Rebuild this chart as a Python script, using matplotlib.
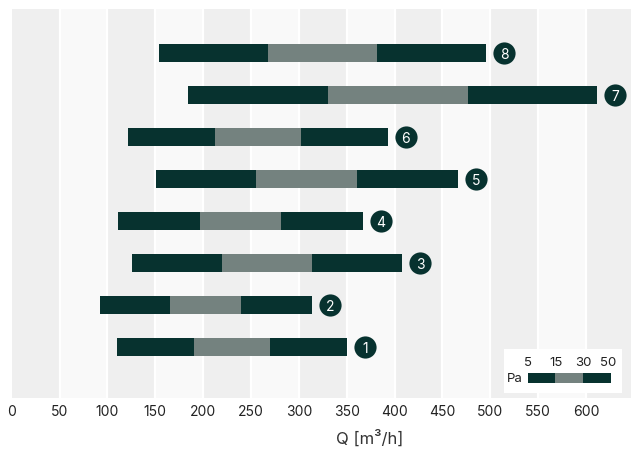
import matplotlib.pyplot as plt
import matplotlib.transforms as mtransforms
import numpy as np

plt.rcParams['font.family'] = ['Inter', 'DejaVu Sans']

# flow range per unit at 5 / 15 / 30 / 50 Pa
units = ['1', '2', '3', '4', '5', '6', '7', '8']
q_5pa = [110, 92, 126, 111, 151, 122, 184, 154]
q_15pa = [190, 165, 220, 197, 255, 212, 330, 268]
q_30pa = [270, 240, 314, 281, 361, 302, 477, 382]
q_50pa = [350, 314, 408, 367, 466, 393, 612, 496]

pressure_labels = ['5', '15', '30', '50']
x_ticks = np.arange(0, 601, 50)

dark = '#07322f'
grey = '#74827f'
band_grey = '#efefef'
band_light = '#f9f9f9'

fig = plt.figure(figsize=(6.31, 4.51), dpi=100)
ax = fig.add_axes([11.7 / 631, 1 - 398 / 451, 1 - 11.7 / 631, 389 / 451])

# background bands
for i, left in enumerate(np.arange(0, 650, 50)):
    ax.axvspan(left, left + 50, color=band_grey if i % 2 == 0 else band_light, lw=0, zorder=0)
    if left > 0:
        ax.axvline(left, color='white', lw=1.6, zorder=1)

y = np.arange(1, len(units) + 1)
h = 0.45
ax.barh(y, np.subtract(q_15pa, q_5pa), left=q_5pa, height=h, color=dark, zorder=2)
ax.barh(y, np.subtract(q_30pa, q_15pa), left=q_15pa, height=h, color=grey, zorder=2)
ax.barh(y, np.subtract(q_50pa, q_30pa), left=q_30pa, height=h, color=dark, zorder=2)

# numbered circles to the right of each bar
off = mtransforms.offset_copy(ax.transData, fig=fig, x=18, y=0, units='dots')
ax.scatter(q_50pa, y, s=255, color=dark, transform=off, zorder=3, clip_on=False, lw=0)
for xv, yv, lab in zip(q_50pa, y, units):
    ax.text(xv, yv, lab, transform=off, ha='center', va='center_baseline',
            color='white', fontsize=10, zorder=4)

ax.set_xlim(0, 647)
ax.set_ylim(-0.214, 9.048)
ax.set_yticks([])
ax.set_xticks(x_ticks)
ax.tick_params(axis='x', length=0, pad=5, labelsize=10, colors='#222222')
for s in ax.spines.values():
    s.set_visible(False)
ax.set_xlabel('Q [m³/h]', fontsize=12, color='#333333')
ax.xaxis.set_label_coords(0.5786, -0.08)

# pressure legend
lax = fig.add_axes([504 / 631, 1 - 393 / 451, 118 / 631, 44 / 451])
lax.set_xlim(0, 118)
lax.set_ylim(0, 44)
lax.set_facecolor('white')
lax.set_xticks([])
lax.set_yticks([])
for s in lax.spines.values():
    s.set_visible(False)
edges = [24, 51, 79, 107]
seg_colors = [dark, grey, dark]
for i in range(3):
    lax.barh(15, edges[i + 1] - edges[i], left=edges[i], height=10, color=seg_colors[i])
for xp, lab in zip([24, 52, 79, 104], pressure_labels):
    lax.text(xp, 30, lab, ha='center', va='center', fontsize=9.5, color='#222222')
lax.text(3, 14, 'Pa', ha='left', va='center', fontsize=9.5, color='#222222')

fig.savefig('out.png', dpi=100)
